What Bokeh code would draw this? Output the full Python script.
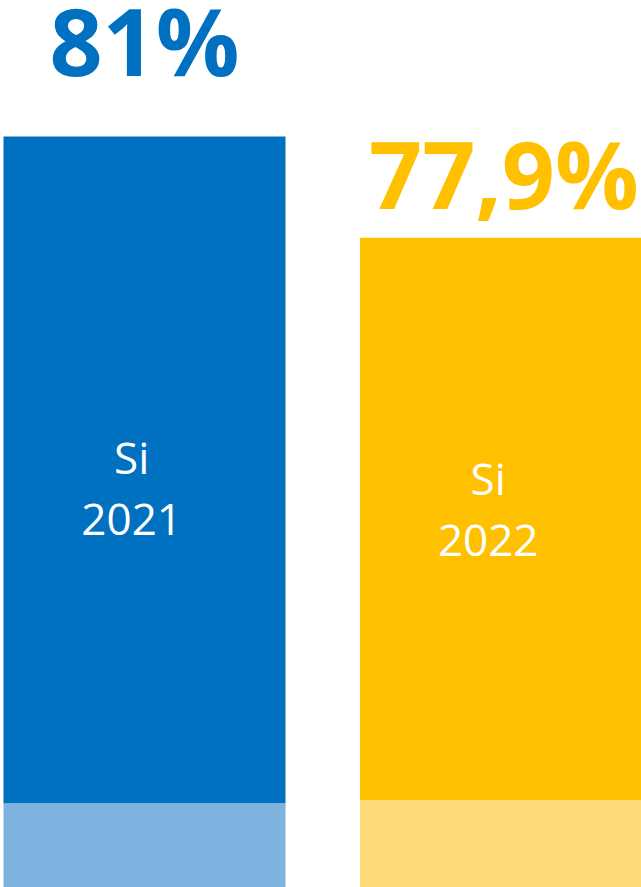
from bokeh.plotting import figure
from bokeh.models import Range1d, ColumnDataSource
from bokeh.embed import file_html
from bokeh.resources import INLINE
from bokeh.core.properties import value

# data
years = ["2021", "2022"]
si_values = [81.0, 77.9]          # top of each bar (percent "Si")
base_values = [60.6, 60.7]        # top of the light base segment
value_labels = ["81%", "77,9%"]
inner_labels_top = ["Si", "Si"]
inner_labels_bottom = ["2021", "2022"]

dark_colors = ["#0070C0", "#FFC000"]
light_colors = ["#7FB2DF", "#FEDA79"]

xs = [0, 1]
bar_w = 0.791

src = ColumnDataSource(dict(
    x=xs, si=si_values, base=base_values, lab=value_labels,
    dark=dark_colors, light=light_colors,
    mid=[(a + b) / 2 for a, b in zip(si_values, base_values)],
    t1=inner_labels_top, t2=inner_labels_bottom,
    xt=[x - 0.036 for x in xs],
    xl=[xs[0], xs[1] + 0.008],
    loff=[-96, -65],
    o1=[-13, -41], o2=[50, 22],
))

p = figure(width=641, height=887, output_backend="svg", toolbar_location=None,
           x_range=Range1d(-0.4039, 1.394), y_range=Range1d(58.02, 85.16),
           min_border=0)
p.axis.visible = False
p.grid.visible = False
p.outline_line_color = None
p.background_fill_color = "white"
p.border_fill_color = "white"

p.vbar(x="x", width=bar_w, bottom=0, top="base", fill_color="light",
       line_color=None, source=src)
p.vbar(x="x", width=bar_w, bottom="base", top="si", fill_color="dark",
       line_color=None, source=src)

p.text(x="xl", y="si", text="lab", y_offset="loff", text_color="dark",
       text_font=value("Open Sans"), text_font_style="bold",
       text_font_size="93px", text_align="center", text_baseline="alphabetic",
       source=src)

p.text(x="xt", y="mid", text="t1", y_offset="o1", text_color="white",
       text_font=value("Open Sans"), text_font_size="44px",
       text_align="center", text_baseline="alphabetic", source=src)
p.text(x="xt", y="mid", text="t2", y_offset="o2", text_color="white",
       text_font=value("Open Sans"), text_font_size="44px",
       text_align="center", text_baseline="alphabetic", source=src)

open("out.html", "w").write(file_html(p, INLINE))
